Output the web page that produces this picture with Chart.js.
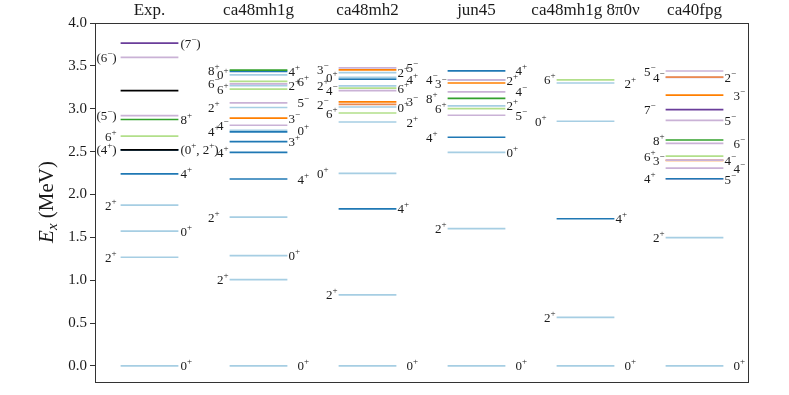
<!DOCTYPE html>
<html><head><meta charset="utf-8">
<script src="https://cdn.jsdelivr.net/npm/chart.js@4/dist/chart.umd.min.js"></script>
<style>html,body{margin:0;padding:0;background:#fff;} canvas{display:block;}</style>
</head><body>
<canvas id="c" width="789" height="395"></canvas>
<script>
// ---- data ----
const columns = ['Exp.', 'ca48mh1g', 'ca48mh2', 'jun45', 'ca48mh1g 8\u03c00\u03bd', 'ca40fpg'];
const yTicks = [0, 0.5, 1.0, 1.5, 2.0, 2.5, 3.0, 3.5, 4.0];

const expEnergies = [0, 1.267, 1.571, 1.875, 2.24, 2.52, 2.52, 2.68, 2.874, 2.92, 3.21, 3.60, 3.766];
const expLabels   = ['0+', '2+', '0+', '2+', '4+', '(4+)', '(0+, 2+)', '6+', '8+', '(5−)', '', '(6−)', '(7−)'];

const mh1gEnergies = [0, 1.006, 1.287, 1.735, 2.18, 2.49, 2.616, 2.73, 2.749, 2.807, 2.89, 3.014, 3.068, 3.228, 3.27, 3.29, 3.32, 3.395, 3.435, 3.45];
const mh1gLabels   = ['0+', '2+', '0+', '2+', '4+', '4+', '3+', '4+', '0+', '4−', '3−', '2+', '5−', '6+', '2+', '6−', '6+', '0+', '4+', '8+'];

const mh2Energies = [0, 0.827, 1.832, 2.245, 2.845, 2.95, 3.02, 3.05, 3.08, 3.21, 3.24, 3.267, 3.345, 3.365, 3.42, 3.454, 3.477];
const mh2Labels   = ['0+', '2+', '4+', '0+', '2+', '6+', '0+', '2−', '3−', '4−', '6+', '2+', '4+', '0+', '2+', '3−', '5−'];

const jun45Energies = [0, 1.60, 2.49, 2.667, 2.924, 3.002, 3.033, 3.12, 3.196, 3.30, 3.335, 3.337, 3.442];
const jun45Labels   = ['0+', '2+', '0+', '4+', '5−', '6+', '2+', '8+', '4−', '3−', '2+', '4−', '4+'];

const mh1g8Energies = [0, 0.565, 1.716, 2.854, 3.30, 3.337];
const mh1g8Labels   = ['0+', '2+', '4+', '0+', '2+', '6+'];

const fpgEnergies = [0, 1.497, 2.18, 2.183, 2.308, 2.398, 2.40, 2.448, 2.596, 2.635, 2.865, 2.99, 3.158, 3.365, 3.368, 3.44];
const fpgLabels   = ['0+', '2+', '5−', '4+', '4−', '3−', '4−', '6+', '6−', '8+', '5−', '7−', '3−', '4−', '2−', '5−'];

// ---- styles ----
const colorByJ = {
  '0+': '#a6cee3', '2+': '#a6cee3', '3+': '#1f78b4', '4+': '#1f78b4', '6+': '#b2df8a', '8+': '#33a02c',
  '2−': '#ec8a4e', '3−': '#ff7f00', '4−': '#cab2d6', '5−': '#cab2d6', '6−': '#cab2d6', '7−': '#6a3d9a'
};
function colorFor(lbl) {
  const k = lbl.replace(/[()]/g, '');
  return colorByJ[k] || '#000000';
}

const levelSets = [
  [expEnergies, expLabels], [mh1gEnergies, mh1gLabels], [mh2Energies, mh2Labels],
  [jun45Energies, jun45Labels], [mh1g8Energies, mh1g8Labels], [fpgEnergies, fpgLabels]
];

const HALF = 0.265;
const datasets = [];
levelSets.forEach(([E, L], ci) => {
  E.forEach((e, k) => {
    const n = datasets.length;
    datasets.push({
      data: [{x: ci - HALF, y: e}, {x: ci + HALF, y: e}],
      borderColor: colorFor(L[k]), backgroundColor: colorFor(L[k]),
      borderWidth: 1.7, pointRadius: 0, showLine: true, fill: false,
      order: -n
    });
  });
});

const SERIF = "'Liberation Serif', 'DejaVu Serif', serif";

function drawRich(ctx, text, x, y, align) {
  const segs = [];
  for (const ch of text) {
    const sup = (ch === '+' || ch === '−');
    if (segs.length && segs[segs.length - 1].sup === sup) segs[segs.length - 1].t += ch;
    else segs.push({t: ch, sup});
  }
  const fN = '13px ' + SERIF, fS = '9px ' + SERIF;
  let w = 0;
  segs.forEach(s => { ctx.font = s.sup ? fS : fN; s.w = ctx.measureText(s.t).width; w += s.w; });
  let cx = align === 'left' ? x : x - w;
  ctx.textAlign = 'left';
  ctx.textBaseline = 'alphabetic';
  ctx.fillStyle = '#1a1a1a';
  segs.forEach(s => {
    ctx.font = s.sup ? fS : fN;
    ctx.fillText(s.t, cx, s.sup ? y - 1.5 : y + 4.5);
    cx += s.w;
  });
}

const labelPlugin = {
  id: 'levelLabels',
  afterDatasetsDraw(chart) {
    const ctx = chart.ctx, xs = chart.scales.x, ys = chart.scales.y;
    ctx.save();
    levelSets.forEach(([E, L], ci) => {
      const x0 = xs.getPixelForValue(ci - HALF), x1 = xs.getPixelForValue(ci + HALF);
      E.forEach((e, k) => {
        const text = L[k];
        if (!text) return;
        const y = ys.getPixelForValue(e);
        const right = k % 2 === 0;
        const far = ci > 0 && (k % 4 === 0 || k % 4 === 3);
        const gap = ci === 0 ? (right ? 2 : 4) : (far ? 10 : 1);
        drawRich(ctx, text, right ? x1 + gap : x0 - gap, y, right ? 'left' : 'right');
      });
    });
    ctx.restore();
  }
};

const framePlugin = {
  id: 'frame',
  afterDraw(chart) {
    const {ctx, chartArea: a} = chart;
    ctx.save();
    ctx.strokeStyle = '#333';
    ctx.lineWidth = 1;
    ctx.strokeRect(Math.round(a.left) + 0.5, Math.round(a.top) + 0.5, Math.round(a.right - a.left) - 1, Math.round(a.bottom - a.top) - 1);
    // y-axis title: E_x (MeV)
    ctx.translate(46, 202);
    ctx.rotate(-Math.PI / 2);
    const parts = [
      {t: 'E', f: 'italic 21px ' + SERIF, dy: 0},
      {t: 'x', f: 'italic 15px ' + SERIF, dy: 4},
      {t: ' (MeV)', f: '21px ' + SERIF, dy: 0}
    ];
    let w = 0;
    parts.forEach(p => { ctx.font = p.f; p.w = ctx.measureText(p.t).width; w += p.w; });
    let cx = -w / 2;
    ctx.fillStyle = '#1a1a1a';
    ctx.textBaseline = 'alphabetic';
    ctx.textAlign = 'left';
    parts.forEach(p => { ctx.font = p.f; ctx.fillText(p.t, cx, 7 + p.dy); cx += p.w; });
    ctx.restore();
  }
};

new Chart(document.getElementById('c'), {
  type: 'scatter',
  data: {datasets},
  options: {
    responsive: false,
    animation: false,
    devicePixelRatio: 1,
    layout: {padding: {left: 0, right: 40, top: 0, bottom: 12}},
    plugins: {legend: {display: false}, tooltip: {enabled: false}},
    scales: {
      x: {
        type: 'linear', position: 'top', min: -0.5, max: 5.5,
        grid: {display: false, drawTicks: false},
        border: {display: false},
        afterBuildTicks: s => { s.ticks = columns.map((_, i) => ({value: i})); },
        afterFit: s => { s.height = 23; },
        ticks: {
          autoSkip: false, maxRotation: 0, padding: 2,
          font: {family: SERIF, size: 17}, color: '#1a1a1a',
          callback: v => columns[v]
        }
      },
      y: {
        type: 'linear', min: -0.2, max: 4.0,
        grid: {drawOnChartArea: false, drawTicks: true, tickLength: 5, color: '#333', lineWidth: 1},
        border: {display: false},
        afterBuildTicks: s => { s.ticks = yTicks.map(v => ({value: v})); },
        afterFit: s => { s.width = 95; },
        ticks: {
          padding: 3, font: {family: SERIF, size: 15}, color: '#1a1a1a',
          callback: v => v.toFixed(1)
        }
      }
    }
  },
  plugins: [labelPlugin, framePlugin]
});
</script>
</body></html>
